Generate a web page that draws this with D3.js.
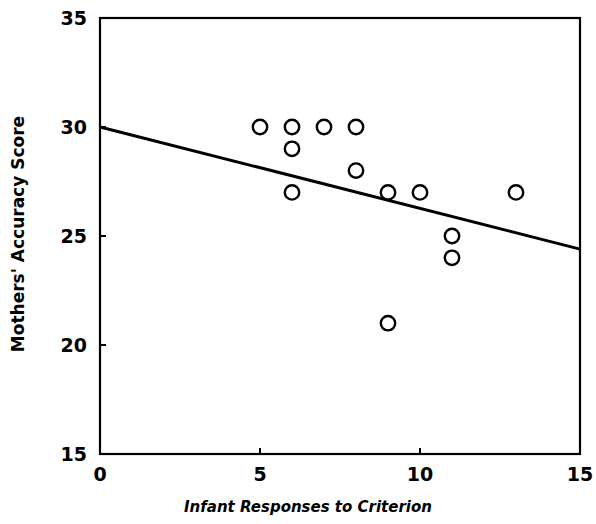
<!DOCTYPE html>
<html>
<head>
<meta charset="utf-8">
<script src="https://cdn.jsdelivr.net/npm/d3@7"></script>
<style>
  html, body { margin: 0; padding: 0; background: #fff; }
  svg { display: block; }
  .tick-label { font-family: "DejaVu Sans", sans-serif; font-weight: bold; font-size: 19px; fill: #000; }
  .axis-title { font-family: "DejaVu Sans", sans-serif; font-weight: bold; font-style: italic; font-size: 15px; fill: #000; }
</style>
</head>
<body>
<svg id="chart" width="596" height="524"></svg>
<script>
// Infant responses to criterion (x) and mothers' accuracy score (y)
const infantResponses = [5, 6, 7, 8, 6, 6, 8, 9, 10, 13, 11, 11, 9];
const accuracyScores  = [30, 30, 30, 30, 29, 27, 28, 27, 27, 27, 25, 24, 21];

// Fitted regression line endpoints
const fitX = [0, 15];
const fitY = [30, 24.4];

const xTicks = [0, 5, 10, 15];
const yTicks = [15, 20, 25, 30, 35];

const xTitle = "Infant Responses to Criterion";
const yTitle = "Mothers' Accuracy Score";

const svg = d3.select("#chart");
const plotLeft = 100, plotRight = 580, plotTop = 18, plotBottom = 454;

const x = d3.scaleLinear().domain([0, 15]).range([plotLeft, plotRight]);
const y = d3.scaleLinear().domain([15, 35]).range([plotBottom, plotTop]);

// Plot frame
svg.append("rect")
  .attr("x", plotLeft).attr("y", plotTop)
  .attr("width", plotRight - plotLeft).attr("height", plotBottom - plotTop)
  .attr("fill", "none").attr("stroke", "#000").attr("stroke-width", 2.2);

// Inward tick marks on the bottom and left edges
svg.selectAll(".xtick").data(xTicks.filter(d => d > 0 && d < 15)).join("line")
  .attr("x1", d => x(d)).attr("x2", d => x(d))
  .attr("y1", plotBottom).attr("y2", plotBottom - 6)
  .attr("stroke", "#000").attr("stroke-width", 2);

svg.selectAll(".ytick").data(yTicks.filter(d => d > 15 && d < 35)).join("line")
  .attr("x1", plotLeft).attr("x2", plotLeft + 6)
  .attr("y1", d => y(d)).attr("y2", d => y(d))
  .attr("stroke", "#000").attr("stroke-width", 2);

// Tick labels
svg.selectAll(".xlab").data(xTicks).join("text")
  .attr("class", "tick-label")
  .attr("x", d => x(d)).attr("y", 481)
  .attr("text-anchor", "middle")
  .text(d => d);

svg.selectAll(".ylab").data(yTicks).join("text")
  .attr("class", "tick-label")
  .attr("x", 87).attr("y", d => y(d) + 7)
  .attr("text-anchor", "end")
  .text(d => d);

// Regression line
svg.append("line")
  .attr("x1", x(fitX[0])).attr("y1", y(fitY[0]))
  .attr("x2", x(fitX[1])).attr("y2", y(fitY[1]))
  .attr("stroke", "#000").attr("stroke-width", 3);

// Data points as open circles
const pts = infantResponses.map((v, i) => ({ x: v, y: accuracyScores[i] }));
svg.selectAll(".pt").data(pts).join("circle")
  .attr("cx", d => x(d.x)).attr("cy", d => y(d.y))
  .attr("r", 7.2)
  .attr("fill", "none").attr("stroke", "#000").attr("stroke-width", 2.4);

// Axis titles
svg.append("text").attr("class", "axis-title")
  .attr("x", 308).attr("y", 512)
  .attr("text-anchor", "middle")
  .text(xTitle);

svg.append("text").attr("class", "axis-title")
  .attr("transform", "translate(24," + 234 + ") rotate(-90)")
  .attr("text-anchor", "middle")
  .style("font-style", "normal")
  .style("font-size", "17px")
  .text(yTitle);
</script>
</body>
</html>
